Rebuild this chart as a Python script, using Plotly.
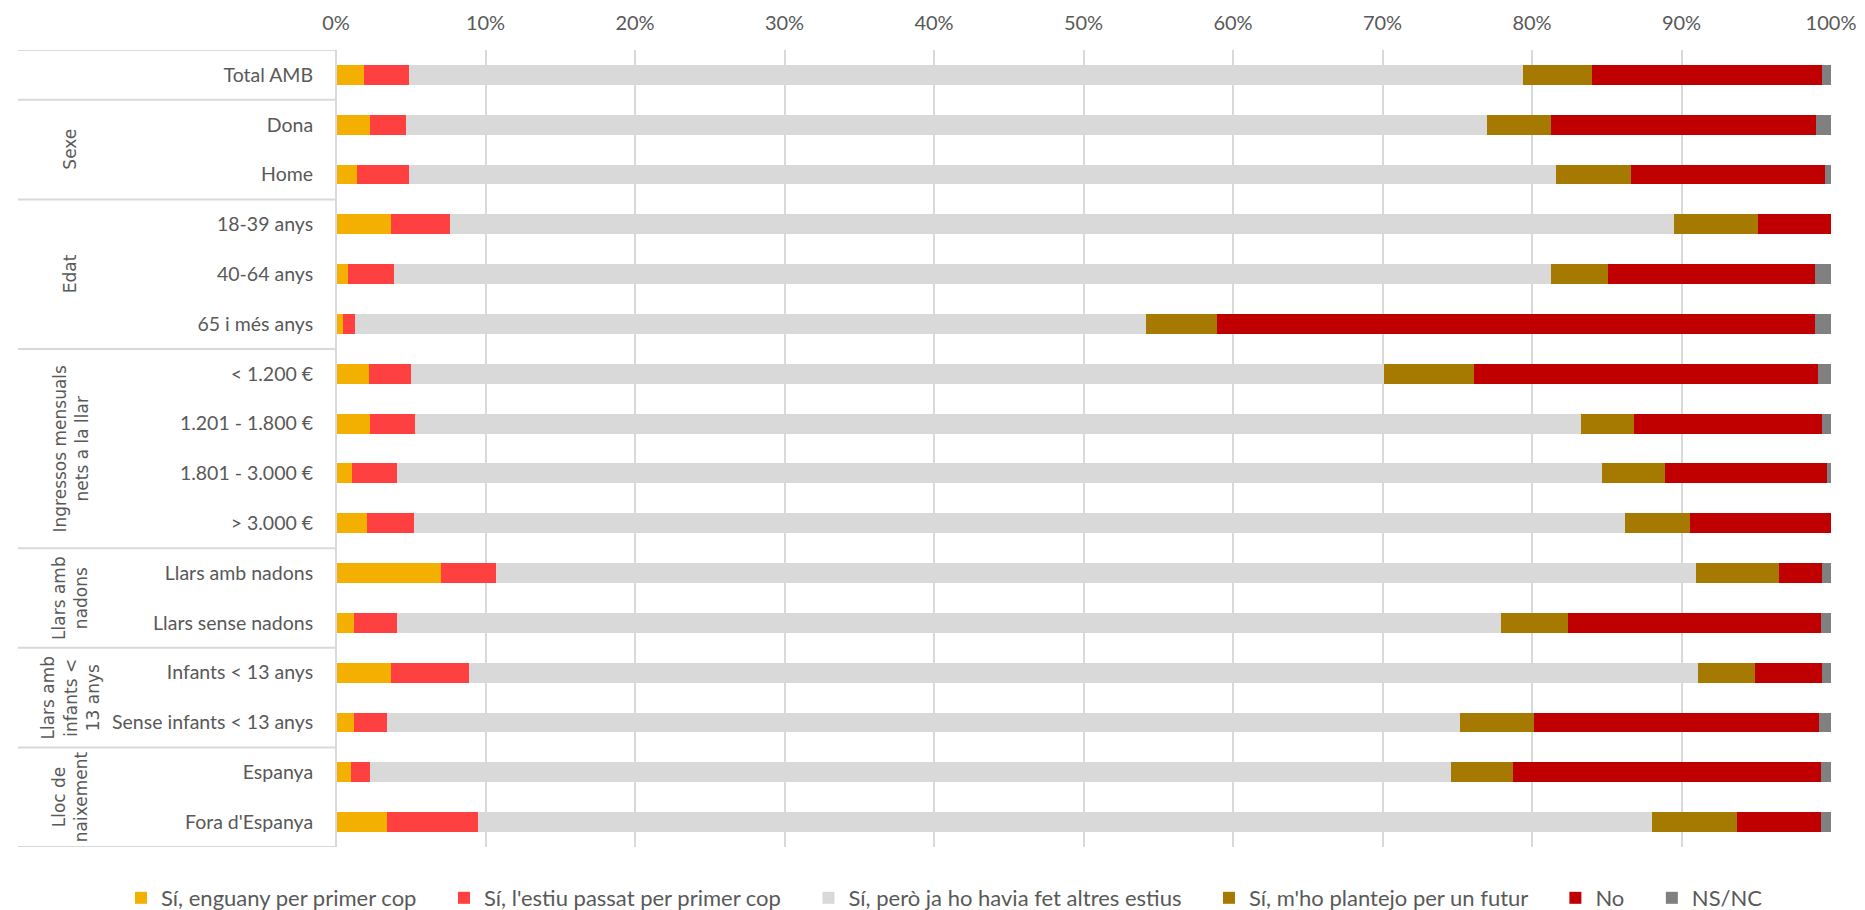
import plotly.graph_objects as go

categories = ["Total AMB", "Dona", "Home", "18-39 anys", "40-64 anys", "65 i més anys",
              "< 1.200 €", "1.201 - 1.800 €", "1.801 - 3.000 €", "> 3.000 €",
              "Llars amb nadons", "Llars sense nadons", "Infants < 13 anys",
              "Sense infants < 13 anys", "Espanya", "Fora d'Espanya"]

series_names = ["Sí, enguany per primer cop", "Sí, l'estiu passat per primer cop",
                "Sí, però ja ho havia fet altres estius", "Sí, m'ho plantejo per un futur",
                "No", "NS/NC"]

si_enguany = [1.9, 2.3, 1.4, 3.7, 0.8, 0.5, 2.2, 2.3, 1.1, 2.1, 7.0, 1.2, 3.7, 1.2, 1.0, 3.4]
si_estiu_passat = [3.0, 2.4, 3.5, 3.9, 3.1, 0.8, 2.8, 3.0, 3.0, 3.1, 3.7, 2.9, 5.2, 2.2, 1.3, 6.1]
si_altres_estius = [74.5, 72.3, 76.7, 81.9, 77.4, 52.9, 65.1, 78.0, 80.6, 81.0, 80.3, 73.8, 82.2, 71.8, 72.3, 78.5]
si_futur = [4.6, 4.3, 5.0, 5.6, 3.8, 4.7, 6.0, 3.5, 4.2, 4.4, 5.5, 4.5, 3.8, 4.9, 4.1, 5.7]
no = [15.4, 17.7, 13.0, 4.9, 13.8, 40.0, 23.0, 12.6, 10.8, 9.4, 2.9, 16.9, 4.5, 19.1, 20.6, 5.6]
ns_nc = [0.6, 1.0, 0.4, 0.0, 1.1, 1.1, 0.9, 0.6, 0.3, 0.0, 0.6, 0.7, 0.6, 0.8, 0.7, 0.7]

groups = [("", 0, 0),
          ("Sexe", 1, 2),
          ("Edat", 3, 5),
          ("Ingressos mensuals<br>nets a la llar", 6, 9),
          ("Llars amb<br>nadons", 10, 11),
          ("Llars amb<br>infants &lt;<br>13 anys", 12, 13),
          ("Lloc de<br>naixement", 14, 15)]

colors = ["#F4B000", "#FF4040", "#D9D9D9", "#A67A00", "#C00000", "#808080"]
values = [si_enguany, si_estiu_passat, si_altres_estius, si_futur, no, ns_nc]

pad = "\u00a0" * 4
fig = go.Figure()
for i, (name, vals, col) in enumerate(zip(series_names, values, colors)):
    shown = name + (pad if i < len(series_names) - 1 else "")
    fig.add_trace(go.Bar(y=categories, x=vals, name=shown, orientation="h",
                         marker=dict(color=col, line=dict(width=0)),
                         hovertemplate="%{y}: %{x:.1f}%<extra>" + name + "</extra>"))

W, H = 1865, 910
ml, mr, mt, mb = 328, 42, 42, 71
pw = W - ml - mr
left_edge = (10 - ml) / pw
grp_x = (62 - ml) / pw
legend_x = (113 - ml) / pw

shapes = []
line_style = dict(color="#D9D9D9", width=2)
bounds = [-0.5] + [g[2] + 0.5 for g in groups]
for b in bounds:
    shapes.append(dict(type="line", xref="paper", yref="y", x0=left_edge, x1=0,
                       y0=b, y1=b, line=line_style, layer="above"))
shapes.append(dict(type="line", xref="paper", yref="y", x0=0, x1=0, y0=-0.5, y1=15.5,
                   line=line_style, layer="above"))

annotations = []
for label, a, b in groups:
    if not label:
        continue
    annotations.append(dict(text=label, xref="paper", yref="y", x=grp_x, y=(a + b) / 2,
                            textangle=-90, showarrow=False, xanchor="center", yanchor="middle",
                            font=dict(family="DejaVu Sans", size=17, color="#595959"),
                            align="center"))

fig.update_layout(
    width=W, height=H,
    barmode="stack", bargap=0.6,
    plot_bgcolor="white", paper_bgcolor="white",
    margin=dict(l=ml, r=mr, t=mt, b=mb, autoexpand=False),
    font=dict(family="Lato", size=17, color="#595959"),
    xaxis=dict(side="top", range=[0, 100], dtick=10, ticksuffix="%", showgrid=True,
               gridcolor="#D9D9D9", gridwidth=2, zeroline=False, showline=False,
               ticks="outside", ticklen=11, tickcolor="rgba(0,0,0,0)",
               tickfont=dict(size=20, color="#595959"), fixedrange=True),
    yaxis=dict(type="category", categoryorder="array", categoryarray=categories,
               range=[15.5, -0.5], showgrid=False, zeroline=False, showline=False,
               ticks="outside", ticklen=18, tickcolor="rgba(0,0,0,0)",
               tickfont=dict(size=19.5, color="#595959"), fixedrange=True),
    legend=dict(orientation="h", x=legend_x, xanchor="left",
                y=-0.064, yanchor="middle",
                font=dict(size=22, color="#595959"), traceorder="normal",
                itemwidth=30),
    shapes=shapes,
    annotations=annotations,
    showlegend=True,
)

fig.write_html("out.html")
